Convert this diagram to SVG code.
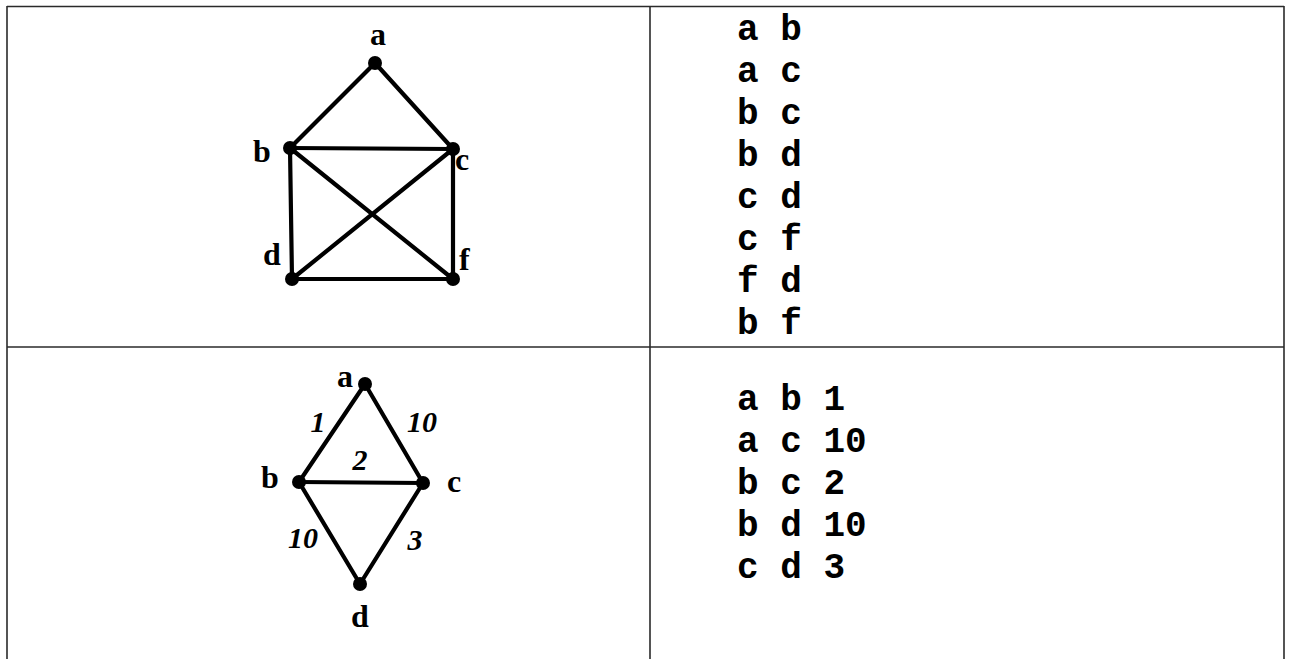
<svg xmlns="http://www.w3.org/2000/svg" width="1289" height="659" viewBox="0 0 1289 659">
<style>
.grid{stroke:#2a2a2a;stroke-width:1.6;fill:none}
.edge{stroke:#000;stroke-width:4.2;stroke-linecap:round}
.dot{fill:#000}
.lbl{font-family:"Liberation Serif","Times New Roman",serif;font-weight:bold;font-size:32px;fill:#000}
.w{font-family:"Liberation Serif","Times New Roman",serif;font-weight:bold;font-style:italic;font-size:30px;fill:#000;text-anchor:middle}
.code{font-family:"Liberation Mono","Courier New",monospace;font-weight:bold;font-size:36px;fill:#000}
</style>
<rect width="1289" height="659" fill="#fff"/>
<g id="table">
<line class="grid" x1="7" y1="6.5" x2="1284" y2="6.5"/>
<line class="grid" x1="7" y1="347" x2="1284" y2="347"/>
<line class="grid" x1="7" y1="6" x2="7" y2="659"/>
<line class="grid" x1="650" y1="6" x2="650" y2="659"/>
<line class="grid" x1="1284" y1="6" x2="1284" y2="659"/>
</g>
<g id="connectors">
<line class="edge" x1="375" y1="63" x2="290" y2="148"/>
<line class="edge" x1="375" y1="63" x2="453" y2="149"/>
<line class="edge" x1="290" y1="148" x2="453" y2="149"/>
<line class="edge" x1="290" y1="148" x2="292" y2="279"/>
<line class="edge" x1="453" y1="149" x2="292" y2="279"/>
<line class="edge" x1="453" y1="149" x2="453" y2="279"/>
<line class="edge" x1="453" y1="279" x2="292" y2="279"/>
<line class="edge" x1="290" y1="148" x2="453" y2="279"/>
<line class="edge" x1="365" y1="384" x2="299" y2="482"/>
<line class="edge" x1="365" y1="384" x2="423" y2="483"/>
<line class="edge" x1="299" y1="482" x2="423" y2="483"/>
<line class="edge" x1="299" y1="482" x2="360" y2="584"/>
<line class="edge" x1="423" y1="483" x2="360" y2="584"/>
</g>
<g id="weights">
<text class="w" x="318" y="432">1</text>
<text class="w" x="422" y="432">10</text>
<text class="w" x="360" y="470">2</text>
<text class="w" x="303" y="548">10</text>
<text class="w" x="415" y="550">3</text>
</g>
<g id="node-a1"><circle class="dot" cx="375" cy="63" r="7"/><text class="lbl" x="370" y="45">a</text></g>
<g id="node-b1"><circle class="dot" cx="290" cy="148" r="7"/><text class="lbl" x="253" y="162">b</text></g>
<g id="node-c1"><circle class="dot" cx="453" cy="149" r="7"/><text class="lbl" x="455" y="170">c</text></g>
<g id="node-d1"><circle class="dot" cx="292" cy="279" r="7"/><text class="lbl" x="263" y="265">d</text></g>
<g id="node-f1"><circle class="dot" cx="453" cy="279" r="7"/><text class="lbl" x="459" y="270">f</text></g>
<g id="node-a2"><circle class="dot" cx="365" cy="384" r="7"/><text class="lbl" x="337" y="387">a</text></g>
<g id="node-b2"><circle class="dot" cx="299" cy="482" r="7"/><text class="lbl" x="261" y="488">b</text></g>
<g id="node-c2"><circle class="dot" cx="423" cy="483" r="7"/><text class="lbl" x="447" y="492">c</text></g>
<g id="node-d2"><circle class="dot" cx="360" cy="584" r="7"/><text class="lbl" x="351" y="627">d</text></g>
<g id="list-top" class="code">
<text x="737" y="40" xml:space="preserve">a b</text>
<text x="737" y="82" xml:space="preserve">a c</text>
<text x="737" y="124" xml:space="preserve">b c</text>
<text x="737" y="166" xml:space="preserve">b d</text>
<text x="737" y="208" xml:space="preserve">c d</text>
<text x="737" y="250" xml:space="preserve">c f</text>
<text x="737" y="292" xml:space="preserve">f d</text>
<text x="737" y="334" xml:space="preserve">b f</text>
</g>
<g id="list-bottom" class="code">
<text x="737" y="410" xml:space="preserve">a b 1</text>
<text x="737" y="452" xml:space="preserve">a c 10</text>
<text x="737" y="494" xml:space="preserve">b c 2</text>
<text x="737" y="536" xml:space="preserve">b d 10</text>
<text x="737" y="578" xml:space="preserve">c d 3</text>
</g>
</svg>
